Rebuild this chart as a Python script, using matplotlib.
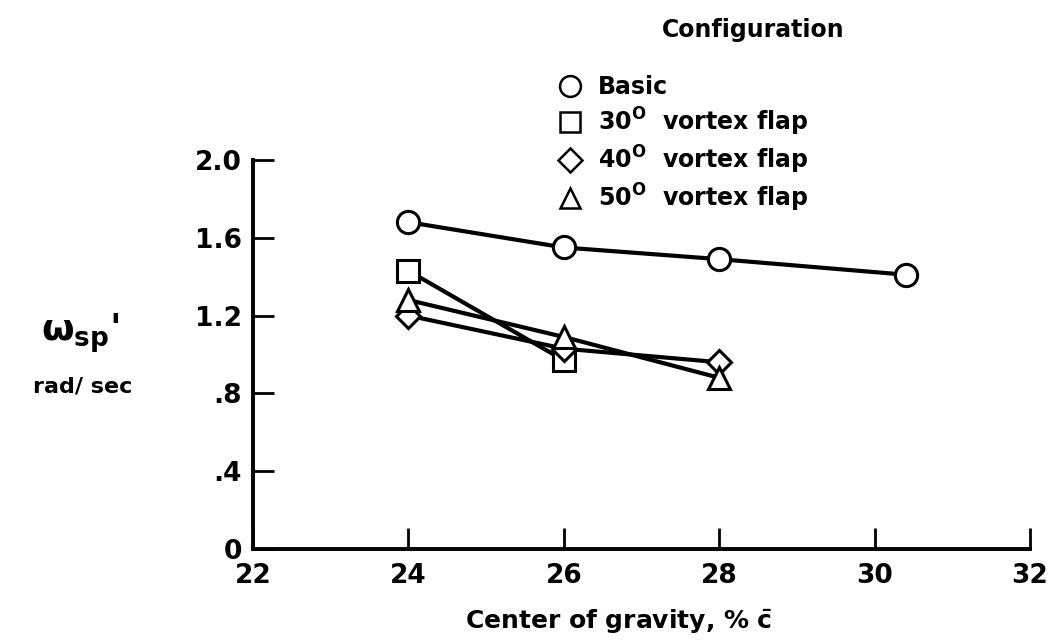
import matplotlib.pyplot as plt
from matplotlib.lines import Line2D

plt.rcParams['font.family'] = ['DejaVu Sans']
plt.rcParams['font.weight'] = 'bold'
plt.rcParams['axes.labelweight'] = 'bold'
plt.rcParams['mathtext.fontset'] = 'custom'
plt.rcParams['mathtext.rm'] = 'DejaVu Sans:bold'
plt.rcParams['mathtext.it'] = 'DejaVu Sans:bold'
plt.rcParams['mathtext.bf'] = 'DejaVu Sans:bold'

# data
basic_x = [24, 26, 28, 30.4]
basic_y = [1.68, 1.55, 1.49, 1.41]
flap30_x = [24, 26]
flap30_y = [1.43, 0.97]
flap40_x = [24, 26, 28]
flap40_y = [1.20, 1.03, 0.96]
flap50_x = [24, 26, 28]
flap50_y = [1.28, 1.09, 0.88]

labels = ["Basic", r"30$^{\rm O}$  vortex flap", r"40$^{\rm O}$  vortex flap",
          r"50$^{\rm O}$  vortex flap"]
markers = ['o', 's', 'D', '^']
xticks = [22, 24, 26, 28, 30, 32]
yticks = [0, 0.4, 0.8, 1.2, 1.6, 2.0]
ytick_labels = ['0', '.4', '.8', '1.2', '1.6', '2.0']

fig = plt.figure(figsize=(10.61, 6.41), dpi=100)
ax = fig.add_axes([0.2385, 0.1435, 0.7323, 0.607])

series = [(basic_x, basic_y), (flap30_x, flap30_y), (flap40_x, flap40_y), (flap50_x, flap50_y)]
for (xs, ys), m in zip(series, markers):
    ax.plot(xs, ys, color='black', lw=3.0, marker=m, ms=(12 if m == 'D' else 16),
            mfc='white', mec='black', mew=2.2, zorder=3)

ax.set_xlim(22, 32)
ax.set_ylim(0, 2.0)
ax.set_xticks(xticks)
ax.set_yticks(yticks)
ax.set_yticklabels(ytick_labels)
for s in ['top', 'right']:
    ax.spines[s].set_visible(False)
for s in ['left', 'bottom']:
    ax.spines[s].set_linewidth(2.8)
ax.tick_params(direction='in', length=15, width=2, labelsize=19, pad=8)
ax.tick_params(axis='x', pad=10)

ax.set_xlabel(r"Center of gravity, % $\bar{\rm c}$", fontsize=18, va='center')
ax.xaxis.set_label_coords(0.47, -0.188)

fig.text(0.075, 0.48, r"$\omega_{\rm sp}$'", fontsize=27, ha='center', va='center')
fig.text(0.078, 0.397, "rad/ sec", fontsize=16, ha='center', va='center')

handles = [Line2D([], [], ls='none', marker=m, ms=(12 if m == 'D' else 15), mfc='white',
                  mec='black', mew=1.8) for m in markers]
leg = fig.legend(handles, labels, loc='upper left', bbox_to_anchor=(0.517, 0.897),
                 frameon=False, fontsize=17, handlelength=1.0, handletextpad=0.7,
                 labelspacing=0.25, borderaxespad=0)
fig.text(0.71, 0.953, "Configuration", fontsize=17, ha='center', va='center')

fig.savefig('out.png', dpi=100)
